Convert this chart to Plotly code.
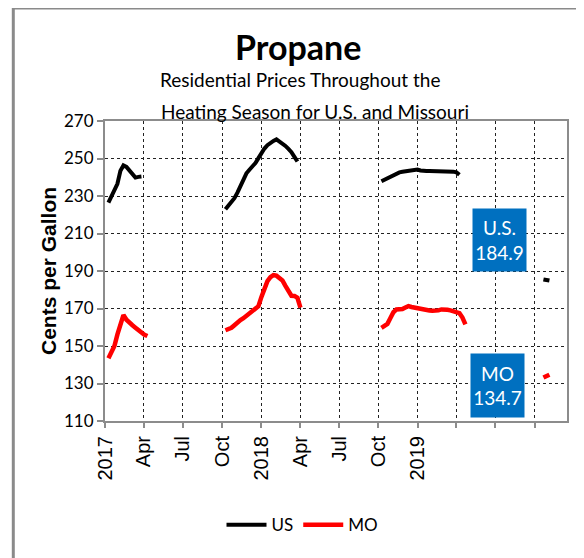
import pandas as pd
import plotly.graph_objects as go

# ---- data (cents per gallon, weekly) ----
us_2017_start = "2017-01-09"
us_2017 = [226.5, 229.5, 232.5, 236.5, 243.5, 246.3, 245.5, 243.5, 241.0, 239.8, 240.2, 240.4]
mo_2017_start = "2017-01-09"
mo_2017 = [143.5, 146.5, 150.0, 156.2, 162.5, 166.5, 164.0, 162.3, 161.1, 159.8, 158.4, 157.0, 156.0, 155.3]

us_2018_start = "2017-10-09"
us_2018 = [222.9, 224.9, 226.8, 228.8, 231.8, 235.2, 238.7, 242.1, 244.0, 245.8, 247.6, 250.2, 252.9,
           255.3, 257.1, 258.6, 259.4, 260.2, 259.2, 258.2, 256.7, 255.1, 253.4, 250.9, 248.4]
mo_2018_start = "2017-10-09"
mo_2018 = [158.4, 159.1, 159.7, 161.1, 162.7, 163.8, 164.8, 166.1, 168.0, 169.3, 169.9, 171.2, 176.2,
           180.7, 184.6, 186.7, 187.8, 187.5, 186.5, 185.0, 182.1, 179.0, 176.8, 176.7, 175.7, 170.5]

us_2019_start = "2018-10-08"
us_2019 = [237.9, 238.7, 239.5, 240.3, 241.2, 242.2, 242.6, 242.9, 243.2, 243.5, 243.8, 244.1, 244.1,
           243.6, 243.2, 243.3, 243.4, 243.4, 243.3, 243.2, 243.2, 243.2, 243.2, 243.2, 243.0, 242.6, 241.3]
mo_2019_start = "2018-10-08"
mo_2019 = [159.7, 160.7, 161.8, 164.9, 168.0, 169.5, 169.5, 169.7, 170.5, 171.3, 170.8, 170.4, 169.9,
           169.7, 169.4, 169.1, 168.9, 168.8, 168.7, 169.0, 169.5, 169.6, 169.3, 169.0, 168.7, 168.4,
           167.5, 165.2, 161.5]

us_2020_start = "2019-10-21"
us_2020 = [185.5, 185.2, 184.9]
mo_2020_start = "2019-10-21"
mo_2020 = [133.2, 133.9, 134.7]

us_latest = "U.S.<br>184.9"
mo_latest = "MO<br>134.7"

tick_dates = ["2017-01-01", "2017-04-01", "2017-07-01", "2017-10-01", "2018-01-01", "2018-04-01",
              "2018-07-01", "2018-10-01", "2019-01-01", "2019-04-01", "2019-07-01", "2019-10-01"]
tick_text = ["2017", "Apr", "Jul", "Oct", "2018", "Apr", "Jul", "Oct", "2019", "", "", ""]
y_ticks = [110, 130, 150, 170, 190, 210, 230, 250, 270]


def join(segments):
    xs, ys = [], []
    for start, vals in segments:
        d = pd.date_range(start, periods=len(vals), freq="7D")
        xs += list(d) + [None]
        ys += list(vals) + [None]
    return xs, ys


us_x, us_y = join([(us_2017_start, us_2017), (us_2018_start, us_2018),
                   (us_2019_start, us_2019), (us_2020_start, us_2020)])
mo_x, mo_y = join([(mo_2017_start, mo_2017), (mo_2018_start, mo_2018),
                   (mo_2019_start, mo_2019), (mo_2020_start, mo_2020)])

CAL = "Lato, sans-serif"
ARIAL = "Liberation Sans, Arial, sans-serif"

fig = go.Figure()
fig.add_trace(go.Scatter(x=us_x, y=us_y, mode="lines", name="US",
                         line=dict(color="black", width=4), connectgaps=False))
fig.add_trace(go.Scatter(x=mo_x, y=mo_y, mode="lines", name="MO",
                         line=dict(color="#ff0000", width=4.5), connectgaps=False))

axis_common = dict(showline=True, linecolor="#8c8c8c", linewidth=2, mirror=True,
                   showgrid=True, gridcolor="#222222", gridwidth=1, griddash="dot",
                   ticks="outside", tickcolor="#8c8c8c", tickwidth=1.5, zeroline=False)

# the page places the figure 8px in from the top-left, so the margins absorb that offset
fig.update_layout(
    width=584, height=558,
    margin=dict(l=97, r=25, t=113, b=145),
    paper_bgcolor="white", plot_bgcolor="white",
    xaxis=dict(type="date", range=["2017-01-01", "2019-12-15"],
               tickvals=tick_dates, ticktext=tick_text, tickangle=-90, ticklen=5,
               tickfont=dict(family=ARIAL, size=20, color="black"), **axis_common),
    yaxis=dict(range=[110, 270], tickvals=y_ticks, ticklen=6,
               tickfont=dict(family=CAL, size=17, color="black"), **axis_common),
    legend=dict(orientation="h", x=0.4275, xanchor="center", y=-0.347, yanchor="middle",
                font=dict(family=CAL, size=17, color="black"), itemwidth=40,
                bgcolor="rgba(0,0,0,0)"),
    showlegend=True,
)

ann = dict(xref="paper", yref="paper", showarrow=False, xanchor="center", yanchor="middle")

# titles
fig.add_annotation(text="<b>Propane</b>", x=0.4177, y=1.2467,
                   font=dict(family=CAL, size=34, color="black"), **ann)
fig.add_annotation(text="Residential Prices Throughout the", x=0.422, y=1.14,
                   font=dict(family=CAL, size=19, color="black"), **ann)
fig.add_annotation(text="Heating Season for U.S. and Missouri", x=0.4535, y=1.0333,
                   font=dict(family=CAL, size=19, color="black"), **ann)
fig.add_annotation(text="<b>Cents per Gallon</b>", x=-0.1234, y=0.5, textangle=-90,
                   font=dict(family=ARIAL, size=21, color="black"), **ann)

# value boxes
fig.add_annotation(text=us_latest, x=0.853, y=0.605, bgcolor="#0070c0", width=51, height=60,
                   font=dict(family=CAL, size=19, color="white"), **ann)
fig.add_annotation(text=mo_latest, x=0.8496, y=0.1167, bgcolor="#0070c0", width=51, height=61,
                   font=dict(family=CAL, size=19, color="white"), **ann)

# outer chart frame (top and left edges)
fig.add_shape(type="line", xref="paper", yref="paper", x0=-0.1985, x1=1.06, y0=1.3767, y1=1.3767,
              line=dict(color="#8a8a8a", width=3))
fig.add_shape(type="line", xref="paper", yref="paper", x0=-0.1985, x1=-0.1985, y0=1.38, y1=-0.5,
              line=dict(color="#8a8a8a", width=3))

fig.write_html("out.html")
